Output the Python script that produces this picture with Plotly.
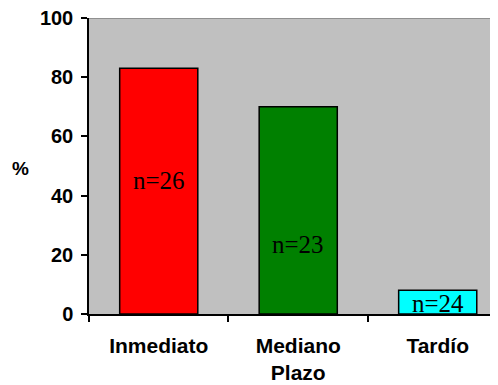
import plotly.graph_objects as go

categories = ["Inmediato", "Mediano<br>Plazo", "Tardío"]
values = [83, 70, 8]
colors = ["#FF0000", "#008000", "#00FFFF"]
n_labels = ["n=26", "n=23", "n=24"]
n_label_y = [45, 23.6, 3.7]
y_ticks = [0, 20, 40, 60, 80, 100]

fig = go.Figure()
fig.add_trace(go.Bar(
    x=categories, y=values, width=0.56,
    marker=dict(color=colors, line=dict(color="black", width=1.5)),
    hoverinfo="skip",
))

for cat, lab, yy in zip(categories, n_labels, n_label_y):
    fig.add_annotation(x=cat, y=yy, text=lab, showarrow=False, xref="x", yref="y",
                       font=dict(family="Liberation Serif, Times New Roman, serif", size=25, color="black"),
                       yanchor="middle")

fig.add_annotation(x=-0.1667, y=0.493, xref="paper", yref="paper",
                   text="<b>%</b>", showarrow=False, xanchor="center", yanchor="middle",
                   font=dict(family="Liberation Sans, Arial, sans-serif", size=19, color="black"))

fig.add_shape(type="line", xref="paper", yref="y", x0=0, x1=1, y0=100, y1=100,
              line=dict(color="#808080", width=1.5))

# page body has an 8px margin, so the figure is sized to fit the remaining window
fig.update_layout(
    width=490, height=377,
    margin=dict(l=81, r=1, t=10, b=71),
    paper_bgcolor="white", plot_bgcolor="#C0C0C0",
    showlegend=False,
    font=dict(family="Liberation Sans, Arial, sans-serif", size=20, color="black"),
)
fig.update_xaxes(
    range=[-0.5, 2.425], type="category", tickson="boundaries",
    ticks="outside", ticklen=6, tickcolor="black", tickwidth=1.5,
    showline=True, linecolor="black", linewidth=1.5,
    tickfont=dict(family="Liberation Sans, Arial, sans-serif", size=21, color="black", weight="bold"),
    showgrid=False, zeroline=False, automargin=False,
    ticklabelstandoff=12, ticklabeloverflow="allow",
)
fig.update_yaxes(
    range=[0, 100], tickvals=y_ticks,
    ticks="outside", ticklen=6, tickcolor="black", tickwidth=1.5,
    showline=True, linecolor="black", linewidth=1.5,
    tickfont=dict(family="Liberation Sans, Arial, sans-serif", size=20, color="black", weight="bold"),
    showgrid=False, zeroline=False, automargin=False,
    ticklabelstandoff=4, ticklabeloverflow="allow",
)

fig.write_html("out.html")
